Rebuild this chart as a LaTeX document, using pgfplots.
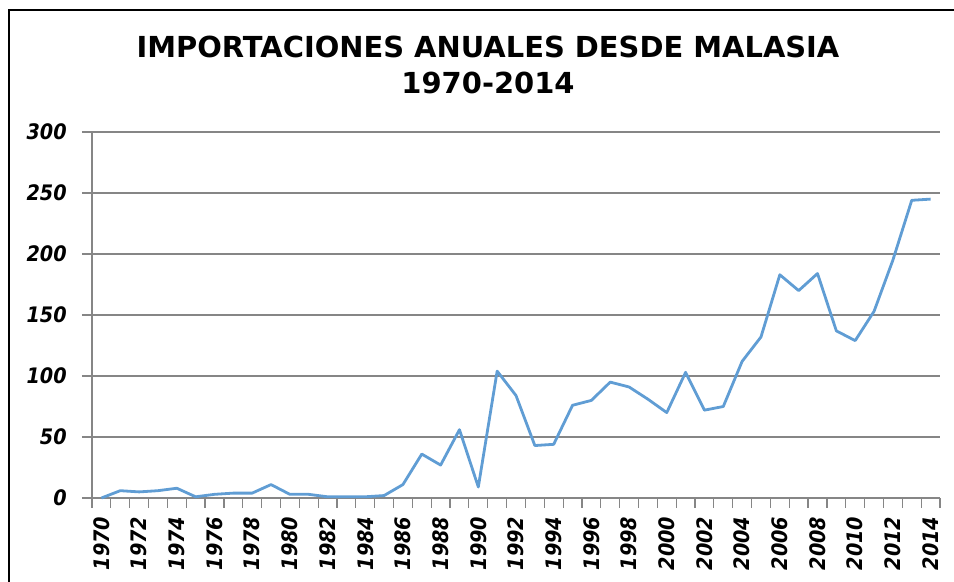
\documentclass[border=0pt]{standalone}
\usepackage{pgfplots}
\pgfplotsset{compat=1.18}
\usepackage{fontspec}
\setmainfont{DejaVu Sans Condensed}
\newfontfamily\titlefont{DejaVu Sans}
\definecolor{serie}{RGB}{96,157,212}
\definecolor{rejilla}{RGB}{134,134,134}
\begin{document}
\begin{tikzpicture}
\path[use as bounding box] (0,0) rectangle (715.5pt,436.5pt);
\draw[black, line width=1.5pt] (6.75pt,0pt) -- (6.75pt,429pt) -- (716pt,429pt);
\node[font=\titlefont\bfseries\fontsize{21.7}{25}\selectfont, anchor=base] at (366pt,393pt) {IMPORTACIONES ANUALES DESDE MALASIA};
\node[font=\titlefont\bfseries\fontsize{21.7}{25}\selectfont, anchor=base] at (366pt,366pt) {1970-2014};
\begin{axis}[
  at={(69pt,63pt)}, anchor=south west,
  scale only axis, width=636pt, height=274.5pt,
  xmin=-0.5, xmax=44.5, ymin=0, ymax=300,
  axis x line*=bottom, axis y line*=left,
  axis line style={rejilla, line width=0.9pt, -},
  xtick={0,2,...,44},
  xticklabels={1970,1972,1974,1976,1978,1980,1982,1984,1986,1988,1990,1992,1994,1996,1998,2000,2002,2004,2006,2008,2010,2012,2014},
  minor xtick={-0.5,0.5,...,44.5},
  major x tick style={draw=none},
  minor x tick style={rejilla, line width=0.9pt},
  ytick={0,50,...,300},
  y tick style={rejilla, line width=0.9pt},
  tick align=outside,
  major tick length=7.5pt, minor tick length=7.5pt,
  ymajorgrids, grid style={rejilla, line width=0.9pt},
  /pgf/number format/assume math mode=true,
  ticklabel style={font=\bfseries\itshape\fontsize{16}{18}\selectfont},
  xticklabel style={rotate=90, anchor=east, xshift=-3pt},
  yticklabel style={anchor=east, xshift=-8pt},
  clip=false,
]
\addplot[serie, line width=2.1pt, mark=none, line join=round] coordinates {
(0,0) (1,6) (2,5) (3,6) (4,8) (5,1) (6,3) (7,4) (8,4) (9,11)
(10,3) (11,3) (12,1) (13,1) (14,1) (15,2) (16,11) (17,36) (18,27) (19,56)
(20,9) (21,104) (22,84) (23,43) (24,44) (25,76) (26,80) (27,95) (28,91) (29,81)
(30,70) (31,103) (32,72) (33,75) (34,112) (35,132) (36,183) (37,170) (38,184) (39,137)
(40,129) (41,153) (42,195) (43,244) (44,245)
};
\end{axis}
\end{tikzpicture}
\end{document}
